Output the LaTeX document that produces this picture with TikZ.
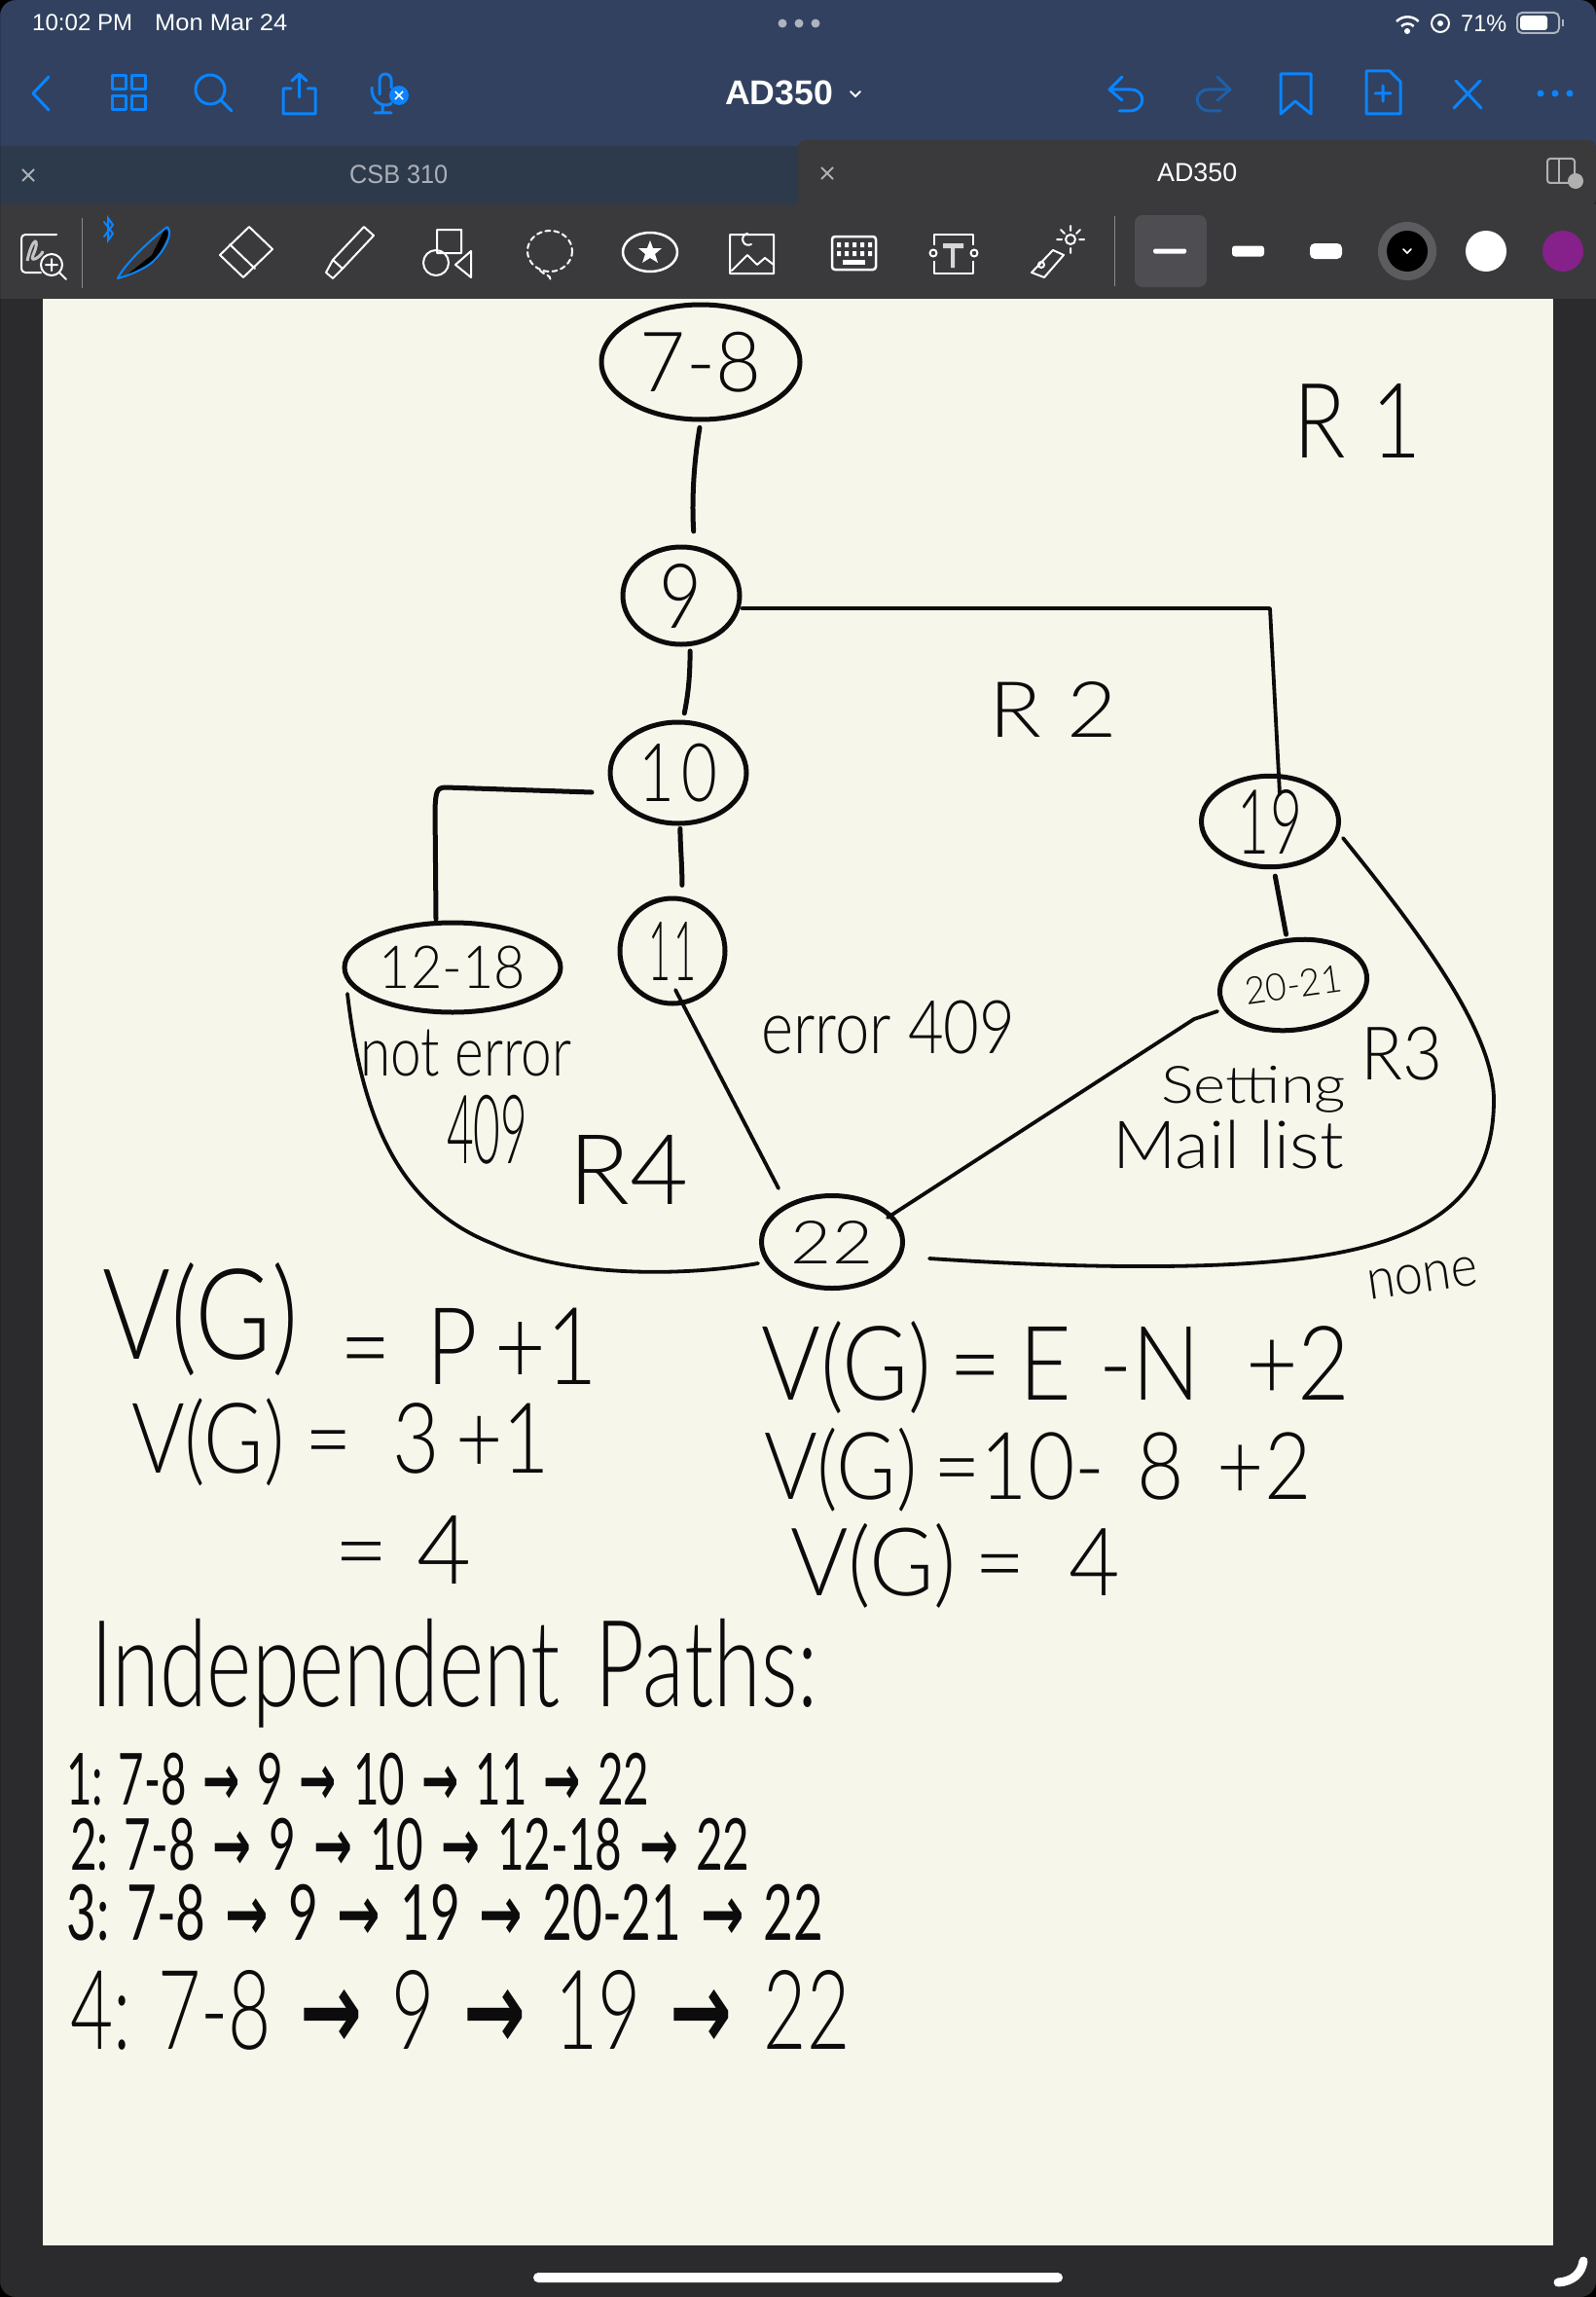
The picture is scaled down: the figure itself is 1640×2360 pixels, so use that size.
\documentclass[tikz,border=0pt]{standalone}
\usepackage{graphicx}
\usepackage{fontspec}
\setmainfont{Lato}[UprightFont=* Light,BoldFont=*]
\newfontfamily\uifont{Liberation Sans}
\newfontfamily\arr{DejaVu Sans}
\usetikzlibrary{shapes.geometric}
\definecolor{navy}{HTML}{31415F}
\definecolor{tabdark}{HTML}{2D3A4C}
\definecolor{bar}{HTML}{3A3A3C}
\definecolor{margin}{HTML}{2B2B2D}
\definecolor{paper}{HTML}{F7F6EA}
\definecolor{uiblue}{HTML}{0A84FF}
\definecolor{dimblue}{HTML}{1F5FA8}
\definecolor{selbox}{HTML}{4E4E52}
\definecolor{swring}{HTML}{5C5C60}
\definecolor{swpurple}{HTML}{86208A}
\definecolor{ink}{HTML}{0C0C0C}
\tikzset{
 hnode/.style={draw=ink,ellipse,line width=5pt,inner sep=0pt,fill=none,text=ink},
 conn/.style={draw=ink,line width=5pt,line cap=round,line join=round},
 thin conn/.style={draw=ink,line width=3.8pt,line cap=round,line join=round},
 hand/.style={inner sep=0pt,anchor=north west,text=ink},
 ui/.style={inner sep=0pt,anchor=north west,text=white,font=\uifont},
 ib/.style={draw=uiblue,line width=3pt,line cap=round,line join=round},
 iw/.style={draw=white,line width=2pt,line cap=round,line join=round},
}
\newcommand\boxtext[6][hand]{\node[#1] (#2) at (#3) {\resizebox*{#5pt}{#6pt}{#4}};}
\newcommand\nlabel[3]{\resizebox*{#2pt}{#3pt}{#1}}
\newcommand\ra{\hspace{.12em}{\arr\bfseries →}\hspace{.12em}}
\newcommand\sk[1]{\hspace{#1em}}
\begin{document}
\begin{tikzpicture}[x=1pt,y=-1pt]
\useasboundingbox (0,0) rectangle (1640,2360);
% --- window ---
\fill[margin] (0,0) rectangle (1640,2360);
\fill[navy] (0,0) rectangle (1640,150);
\fill[tabdark] (0,150) rectangle (820,212);
\fill[bar] (820,156) [rounded corners=8pt] -- (820,144) -- (1640,144) -- (1640,212) [sharp corners] -- (820,212) -- cycle;
\fill[bar] (0,210) rectangle (1640,307);
\fill[paper] (44,307) rectangle (1596,2307);
\fill[white] (548,2335) [rounded corners=5pt] rectangle (1092,2345);
\draw[white,line width=9pt,line cap=round] (1601,2345) .. controls (1616,2344) and (1625,2336) .. (1627,2323);
\fill[black,even odd rule] (0,0) rectangle (1640,2360) [rounded corners=16pt] (0,0) rectangle (1640,2360);
% --- status bar ---
\boxtext[ui]{st1}{33,15}{10:02 PM}{103}{17}
\boxtext[ui]{st2}{159,15}{Mon Mar 24}{136}{17}
\fill[white!60!navy] (804,24) circle (4.5) (821,24) circle (4.5) (838,24) circle (4.5);
\draw[white,line width=2.5pt] (1435,22) arc (225:315:16);
\draw[white,line width=2.5pt] (1440,27) arc (225:315:9);
\fill[white] (1446,32) circle (3);
\draw[white,line width=2pt] (1480,24) circle (9);
\fill[white] (1480,24) circle (3);
\boxtext[ui]{st3}{1501,15}{71\%}{47}{17}
\draw[white!60!navy,line width=2pt,rounded corners=5pt] (1559,13) rectangle (1602,34);
\fill[white,rounded corners=3pt] (1562,16) rectangle (1590,31);
\fill[white!60!navy] (1605,20) rectangle (1607,27);
% --- title bar icons ---
\draw[ib] (50,79) -- (34,96) -- (50,113);
\draw[ib] (115,78) rectangle (129,92) (135,78) rectangle (149,92) (115,99) rectangle (129,113) (135,99) rectangle (149,113);
\draw[ib] (216,92) circle (15) (227,103) -- (238,114);
\draw[ib] (299,91) -- (291,91) -- (291,117) -- (324,117) -- (324,91) -- (316,91) (307.5,100) -- (307.5,76) (300,83) -- (307.5,76) -- (315,83);
\draw[ib,rounded corners=6pt] (390,97) -- (390,76) -- (402,76) -- (402,90);
\draw[ib] (382,90) .. controls (382,110) and (400,110) .. (402,106) (393,108) -- (393,116) (385,116) -- (402,116);
\fill[uiblue] (410,98) circle (10);
\draw[white,line width=1.5pt] (406,94) -- (414,102) (414,94) -- (406,102);
\boxtext[ui]{title}{745,83}{\bfseries AD350}{111}{25}
\draw[white,line width=2pt,line cap=round] (874,94) -- (879,99) -- (884,94);
\draw[ib] (1153,79) -- (1140,92) -- (1153,103) (1140,92) -- (1162,92) .. controls (1178,92) and (1178,114) .. (1160,114) -- (1150,114);
\draw[ib,dimblue] (1251,79) -- (1264,92) -- (1251,103) (1264,92) -- (1242,92) .. controls (1226,92) and (1226,114) .. (1244,114) -- (1254,114);
\draw[ib] (1316,76) -- (1347,76) (1316,76) -- (1316,117) -- (1331,104) -- (1347,117) -- (1347,76);
\draw[ib] (1404,73) -- (1428,73) -- (1439,84) -- (1439,117) -- (1404,117) -- cycle (1421,88) -- (1421,104) (1413,96) -- (1429,96);
\draw[ib] (1494,111) -- (1521,83) (1496,83) -- (1522,111);
\fill[uiblue] (1583,96) circle (3.5) (1598,96) circle (3.5) (1613,96) circle (3.5);
% --- tabs ---
\draw[white!60!tabdark,line width=1.8pt] (23,174) -- (35,186) (35,174) -- (23,186);
\boxtext[ui]{tab1}{359,170}{\textcolor{white!60!tabdark}{CSB 310}}{101}{19}
\draw[white!60!bar,line width=1.8pt] (844,172) -- (856,184) (856,172) -- (844,184);
\boxtext[ui]{tab2}{1189,168}{AD350}{82}{19}
\draw[white!60!bar,line width=2pt,rounded corners=3pt] (1590,163) rectangle (1618,188);
\draw[white!60!bar,line width=2pt] (1602,163) -- (1602,188);
\fill[white!60!bar] (1619,186) circle (8);
% --- toolbar icons ---
\draw[iw,rounded corners=4pt] (58,241) -- (22,241) -- (22,280) -- (42,280);
\draw[white!70!bar,line width=3pt] (28,268) .. controls (34,240) and (42,245) .. (34,262) .. controls (30,272) and (44,262) .. (44,258);
\draw[iw] (53,272) circle (11) (61,280) -- (68,287) (53,266) -- (53,278) (47,272) -- (59,272);
\draw[white!40!bar,line width=1pt] (84,224) -- (84,296);
\draw[uiblue,line width=2pt,line cap=round] (107,228) -- (116,240) -- (111,247) -- (111,224) -- (116,231) -- (107,243);
\fill[black] (156,262) -- (170,234) -- (174,240) -- (160,268) -- (126,286) -- cycle;
\draw[uiblue,line width=2pt,line join=round] (172,233) .. controls (178,240) and (170,256) .. (158,268) .. controls (150,276) and (130,284) .. (121,286) .. controls (128,272) and (150,250) .. (172,233);
\draw[iw] (256,233) -- (280,256) -- (250,285) -- (226,262) -- cycle (236,251) -- (262,276);
\draw[iw] (374,233) -- (384,242) -- (352,276) -- (342,267) -- cycle (342,267) -- (335,280) -- (342,286) -- (352,276);
\draw[iw] (449,236) rectangle (474,260) (448,270) circle (13) (484,258) -- (468,272) -- (484,285) -- cycle;
\draw[iw,dashed,dash pattern=on 5pt off 4pt] (565,258) ellipse (23 and 21) (555,278) .. controls (558,282) and (566,282) .. (566,288);
\draw[iw,line width=2.5pt] (668,259) ellipse (28 and 20);
\fill[white] (668,247) -- (671,255) -- (680,255) -- (673,261) -- (676,270) -- (668,265) -- (660,270) -- (663,261) -- (656,255) -- (665,255) -- cycle;
\draw[iw] (750,241) rectangle (795,281) (752,278) -- (768,262) -- (778,272) -- (786,265) -- (795,272);
\draw[iw] (772,251) arc (60:260:6);
\draw[white,line width=2.5pt,rounded corners=3pt] (855,243) rectangle (900,277);
\foreach \cx in {862,870,878,886,894}{\fill[white] (\cx-2,249) rectangle (\cx+2,254) (\cx-2,258) rectangle (\cx+2,263);}
\fill[white] (866,267) rectangle (889,272);
\draw[iw] (960,241) rectangle (1000,281);
\fill[bar] (953,252) rectangle (1006,268);
\fill[white!80!bar] (969,250) rectangle (990,255) (977,250) rectangle (981,275);
\draw[iw] (959,260) circle (3.5) (1001,260) circle (3.5);
\draw[iw] (1082,257) -- (1093,262) -- (1073,285) -- (1060,280) -- cycle (1070,272) circle (3);
\draw[iw] (1100,246) circle (5) (1100,232) -- (1100,237) (1100,255) -- (1100,260) (1086,246) -- (1091,246) (1109,246) -- (1114,246) (1090,236) -- (1094,240) (1110,236) -- (1106,240);
\draw[white!40!bar,line width=1pt] (1145,222) -- (1145,294);
\fill[selbox,rounded corners=8pt] (1166,221) rectangle (1240,295);
\fill[white,rounded corners=1.5pt] (1185,255.5) rectangle (1219,260.5);
\fill[white,rounded corners=3pt] (1266,252.5) rectangle (1299,263.5);
\fill[white,rounded corners=5pt] (1346,250) rectangle (1379,266);
\fill[swring] (1446,258) circle (30);
\fill[black] (1446,258) circle (21);
\draw[white,line width=1.6pt,line cap=round] (1442,256) -- (1446,260) -- (1450,256);
\fill[white] (1527,258) circle (21);
\fill[swpurple] (1606,258) circle (21);
% --- graph nodes ---
\node[hnode,minimum width=204pt,minimum height=118pt] (n78) at (720,372) {\nlabel{7-8}{124}{62}};
\node[hnode,minimum width=120pt,minimum height=100pt] (n9) at (700,612) {\nlabel{9}{44}{66}};
\node[hnode,minimum width=140pt,minimum height=104pt] (n10) at (697,794) {\nlabel{1\sk{.1}0}{80}{60}};
\node[hnode,minimum width=108pt,minimum height=108pt] (n11) at (691,977) {\nlabel{1\sk{.1}1}{50}{60}};
\node[hnode,minimum width=222pt,minimum height=92pt] (n1218) at (465,994) {\nlabel{12-18}{150}{44}};
\node[hnode,minimum width=141pt,minimum height=90pt] (n19) at (1305,844) {\nlabel{19}{66}{66}};
\node[hnode,minimum width=152pt,minimum height=92pt,rotate=8] (n2021) at (1329,1012) {\nlabel{20-21}{100}{28}};
\node[hnode,minimum width=145pt,minimum height=95pt] (n22) at (855,1276) {\nlabel{22}{84}{44}};
% --- connectors ---
\coordinate (e9out) at (762,625);
\coordinate (eCorner) at (1305,625);
\coordinate (e19in) at (1315,816);
\coordinate (e1218b) at (458,809);
\coordinate (e10l) at (608,814);
\coordinate (e1218c) at (448,944);
\coordinate (e11a) at (694,1017);
\coordinate (e22a) at (800,1221);
\coordinate (e2021a) at (1251,1039);
\coordinate (e2021b) at (1227,1047);
\coordinate (e22b) at (912,1251);
\coordinate (e1218d) at (357,1021);
\coordinate (e22c) at (779,1298);
\coordinate (e19b) at (1380,861);
\coordinate (e22d) at (955,1293);
\draw[conn,shorten <=6pt,shorten >=15pt] (n78.south) .. controls (712,480) and (711,520) .. (n9.75);
\draw[conn,shorten <=5pt,shorten >=7pt] (n9.-80) .. controls (709,690) and (708,710) .. (n10.85);
\draw[conn,shorten <=3pt,shorten >=12pt] (n10.-88) .. controls (699,870) and (701,890) .. (n11.80);
\draw[conn] (e10l) -- (e1218b) .. controls (448,809) and (448,815) .. (447,830) -- (e1218c);
\draw[thin conn] (e9out) -- (eCorner) -- (e19in);
\draw[conn,shorten <=7pt,shorten >=4pt] (n19.south) ++(4,0) -- (n2021.north);
\draw[thin conn] (e11a) -- (e22a);
\draw[thin conn] (e2021a) -- (e2021b) -- (e22b);
\draw[thin conn] (e1218d) .. controls (372,1150) and (410,1240) .. (507,1278) .. controls (580,1312) and (700,1312) .. (e22c);
\draw[thin conn] (e19b) .. controls (1460,960) and (1535,1060) .. (1535,1130) .. controls (1535,1230) and (1470,1280) .. (1320,1295) .. controls (1210,1306) and (1060,1300) .. (e22d);
% --- handwritten labels ---
\boxtext{lr1}{1329,394}{R\sk{.3}1}{131}{76}
\boxtext{lr2}{1016,700}{R\sk{.3}2}{132}{57}
\boxtext{lerr}{782,1028}{error 409}{261}{55}
\boxtext{lnot}{370,1058}{not error}{217}{48}
\boxtext{l409}{459,1125}{409}{83}{71}
\boxtext{lr4}{584,1166}{R4}{123}{71}
\boxtext{lr3}{1398,1055}{R3}{84}{55}
\boxtext{lset}{1193,1095}{Setting}{190}{48}
\boxtext{lmail}{1143,1151}{Mail list}{238}{50}
\node[hand,rotate=8] (lnone) at (1403,1306) {\resizebox*{114pt}{30pt}{none}};
\boxtext{eqa}{105,1297}{V(G)\sk{.4}\raisebox{-.2em}{\scalebox{.85}{=\sk{.4}P\sk{.2}+1}}}{509}{125}
\boxtext{eqb}{135,1437}{V(G)\sk{.25}=\sk{.5}3\sk{.2}+1}{430}{90}
\boxtext{eqc}{343,1557}{=\sk{.3}4}{141}{70}
\boxtext{eqd}{782,1357}{V(G)\sk{.2}=\sk{.2}E\sk{.3}-N\sk{.5}+2}{605}{95}
\boxtext{eqe}{785,1467}{V(G)\sk{.2}=10-\sk{.4}8\sk{.4}+2}{562}{86}
\boxtext{eqf}{812,1565}{V(G)\sk{.2}=\sk{.5}4}{339}{87}
\boxtext{ipaths}{93,1663}{Independent\sk{.4}Paths:}{747}{112}
\boxtext{p1}{68,1801}{{\fontspec{Lato}1: 7-8 \ra{} 9 \ra{} 10 \ra{} 11 \ra{} 22}}{599}{54}
\boxtext{p2}{72,1868}{{\fontspec{Lato}2: 7-8 \ra{} 9 \ra{} 10 \ra{} 12-18 \ra{} 22}}{698}{54}
\boxtext{p3}{68,1936}{{\fontspec{Lato}3: 7-8 \ra{} 9 \ra{} 19 \ra{} 20-21 \ra{} 22}}{778}{58}
\boxtext{p4}{72,2024}{4: 7-8 \ra{} 9 \ra{} 19 \ra{}\sk{.3}22}{801}{82}
\end{tikzpicture}
\end{document}
